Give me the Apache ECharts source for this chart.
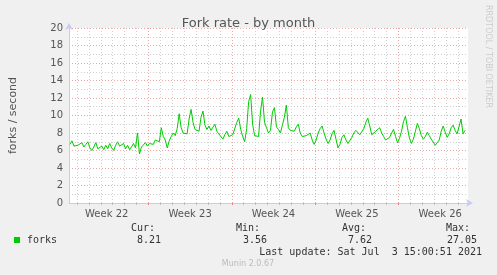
<!DOCTYPE html>
<html><head><meta charset="utf-8">
<script src="https://cdn.jsdelivr.net/npm/echarts@6/dist/echarts.min.js"></script>
<style>html,body{margin:0;padding:0;background:#f0f0f0}#c{width:497px;height:275px}</style>
</head><body><div id="c"></div>
<script>
// ---- data ----
const weekLabels = ['Week 22', 'Week 23', 'Week 24', 'Week 25', 'Week 26'];
const weekCenters = [3.5, 10.5, 17.5, 24.5, 31.5];
const weekBounds = [7, 14, 21, 28];
const dayLines = [1,2,3,4,5,6,8,9,10,11,12,13,15,16,17,18,19,20,22,23,24,25,26,27,29,30,31,32,33];
const xMin = 1/3, xMax = 33.833;
const yTicks = [0,2,4,6,8,10,12,14,16,18,20];
const startDay = 5/12, stepDay = 1/6;
const forks = [
 6.7,7.1,6.5,6.4,6.6,6.5,6.9,6.4,6.7,7.0,6.3,6.0,6.4,6.9,6.2,6.0,6.5,6.1,6.6,6.2,
 6.8,6.3,6.0,6.6,7.0,6.5,6.3,6.8,6.2,6.6,6.1,6.4,6.8,6.3,
 8.0,5.6,6.4,6.6,6.9,6.5,6.8,7.0,6.7,7.2,7.4,7.0,8.6,7.6,7.2,6.3,7.1,7.6,8.0,7.7,
 8.5,10.2,8.6,8.0,8.2,7.9,9.6,10.7,9.2,8.4,8.6,8.2,9.8,10.5,8.9,8.4,8.8,8.3,8.5,9.0,
 8.2,7.9,7.6,7.3,7.8,8.2,7.6,7.5,7.8,8.0,9.2,9.7,8.4,7.6,7.0,8.5,11.6,12.4,9.0,7.7,
 7.9,7.6,10.5,12.1,9.2,8.6,8.0,8.3,10.4,10.9,8.7,8.4,8.0,8.2,9.8,11.2,8.6,8.3,8.4,8.2,
 8.7,9.0,8.0,7.6,7.4,7.7,7.5,8.0,7.2,6.7,7.2,8.0,8.5,8.8,8.0,7.3,6.8,7.2,7.9,8.3,
 7.3,6.3,6.7,7.5,7.8,7.2,6.8,6.9,7.5,8.0,8.3,8.1,7.8,8.0,8.5,9.2,9.7,8.8,7.8,7.9,
 8.2,8.3,8.6,8.0,7.6,7.2,7.0,7.5,8.0,8.4,7.6,6.9,7.4,8.2,9.3,9.9,8.6,7.4,6.8,7.3,
 8.2,9.1,8.5,7.7,7.3,7.6,8.1,7.7,7.3,7.2,6.6,6.4,7.2,8.2,8.8,8.1,7.5,7.9,8.6,8.9,
 8.3,7.9,8.1,9.6,7.9,8.3
];
const legendName = 'forks';
const statLabels = ['Cur:', 'Min:', 'Avg:', 'Max:'];
const statValues = ['8.21', '3.56', '7.62', '27.05'];
const lastUpdate = 'Last update: Sat Jul  3 15:00:51 2021';

// ---- chart ----
const chart = echarts.init(document.getElementById('c'), null, {renderer: 'canvas'});
const seriesData = forks.map((v, i) => [startDay + i * stepDay, v]);
const sans = 'DejaVu Sans';
const mono = 'DejaVu Sans Mono';
const labelX = [155, 260, 366, 470];
const valueX = [161, 267, 372, 477];

const graphics = [
  {type: 'rect', shape: {x: 14, y: 237, width: 6, height: 6}, style: {fill: '#00cc00'}},
  {type: 'text', x: 27, y: 240, style: {text: legendName, font: '10px ' + mono, fill: '#333', verticalAlign: 'middle'}},
  {type: 'text', x: 482, y: 252, style: {text: lastUpdate, font: '10px ' + mono, fill: '#333', align: 'right', verticalAlign: 'middle'}},
  {type: 'text', x: 248, y: 264, style: {text: 'Munin 2.0.67', font: '8px ' + sans, fill: '#bbb', align: 'center', verticalAlign: 'middle'}},
  {type: 'text', x: 488, y: 5, rotation: -Math.PI / 2, style: {text: 'RRDTOOL / TOBI OETIKER', font: '8px ' + sans, fill: '#ccc', align: 'left', verticalAlign: 'middle'}}
];
statLabels.forEach((t, i) => {
  graphics.push({type: 'text', x: labelX[i], y: 228, style: {text: t, font: '10px ' + mono, fill: '#333', align: 'right', verticalAlign: 'middle'}});
  graphics.push({type: 'text', x: valueX[i], y: 240, style: {text: statValues[i], font: '10px ' + mono, fill: '#333', align: 'right', verticalAlign: 'middle'}});
});

chart.setOption({
  animation: false,
  backgroundColor: '#f0f0f0',
  title: {text: 'Fork rate - by month', left: 'center', top: 12,
    textStyle: {fontFamily: sans, fontSize: 13, fontWeight: 'normal', color: '#555'}},
  grid: {left: 66, right: 29, top: 28, bottom: 72, show: true, backgroundColor: '#ffffff', borderWidth: 0},
  xAxis: [
    {type: 'value', min: xMin, max: xMax, position: 'bottom',
      axisLine: {show: true, lineStyle: {color: '#c8ccf4', width: 1}, symbol: ['none', 'arrow'], symbolSize: [6, 7], symbolOffset: [0, 5]},
      axisTick: {show: true, customValues: weekBounds, length: 2, lineStyle: {color: '#f08080'}},
      axisLabel: {show: true, customValues: weekCenters, margin: 6,
        formatter: v => weekLabels[weekCenters.indexOf(v)] || '',
        fontFamily: sans, fontSize: 10, color: '#555'},
      splitLine: {show: true, lineStyle: {color: '#eaa8a8', type: [1, 2], width: 1}}
    },
    {type: 'value', min: xMin, max: xMax, position: 'bottom',
      axisLine: {show: false},
      axisTick: {show: true, customValues: dayLines, length: 2, lineStyle: {color: '#bbbbbb'}},
      axisLabel: {show: false},
      splitLine: {show: true, lineStyle: {color: '#d0d0d0', type: [1, 2], width: 1}}
    }
  ],
  yAxis: {type: 'value', min: 0, max: 20, interval: 2,
    name: 'forks / second', nameLocation: 'middle', nameGap: 50, nameRotate: 90,
    nameTextStyle: {fontFamily: sans, fontSize: 11, color: '#555'},
    axisLine: {show: true, lineStyle: {color: '#c8ccf4', width: 1}, symbol: ['none', 'arrow'], symbolSize: [6, 7], symbolOffset: [0, 5]},
    axisTick: {show: false},
    axisLabel: {fontFamily: sans, fontSize: 10, color: '#555', margin: 6,
      formatter: v => (yTicks.indexOf(v) >= 0 ? String(v) : '')},
    splitLine: {show: true, lineStyle: {color: '#eaa8a8', type: [1, 2], width: 1}},
    minorTick: {show: false, splitNumber: 2},
    minorSplitLine: {show: true, lineStyle: {color: '#d0d0d0', type: [1, 2], width: 1}}
  },
  series: [{type: 'line', xAxisIndex: 0, data: seriesData, showSymbol: false,
    lineStyle: {color: '#00cc00', width: 1}, itemStyle: {color: '#00cc00'}, z: 5}],
  graphic: graphics
});
</script></body></html>
